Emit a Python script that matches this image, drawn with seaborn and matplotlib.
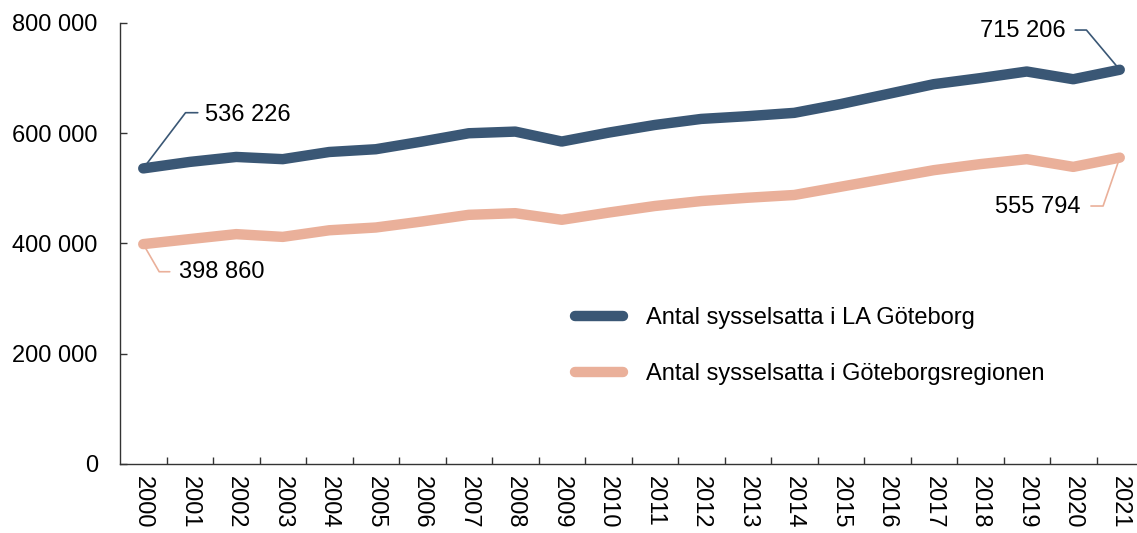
import matplotlib
matplotlib.use("Agg")
import matplotlib.pyplot as plt
from matplotlib.ticker import FuncFormatter, FixedLocator
import numpy as np
import pandas as pd
import seaborn as sns

# ---- data ----
years = list(range(2000, 2022))
la_goteborg = [536226, 548000, 557000, 553000, 566000, 571000, 585000, 600000,
               603000, 585000, 601000, 615000, 626000, 631000, 637000, 653000,
               671000, 689000, 700000, 712000, 698000, 715206]
goteborgsregionen = [398860, 408000, 417000, 412000, 424000, 429000, 440000, 452000,
                     455000, 443000, 456000, 468000, 477000, 483000, 488000, 503000,
                     518000, 533000, 544000, 553000, 539000, 555794]
series_names = ["Antal sysselsatta i LA Göteborg",
                "Antal sysselsatta i Göteborgsregionen"]
colors = ["#3A5775", "#EAB09A"]
y_ticks = [0, 200000, 400000, 600000, 800000]

sns.set_theme(style="white")
plt.rcParams["font.family"] = ["Liberation Sans", "DejaVu Sans"]

FS = 17

df = pd.DataFrame({
    "pos": list(range(len(years))) * 2,
    "value": la_goteborg + goteborgsregionen,
    "series": [series_names[0]] * len(years) + [series_names[1]] * len(years),
})

W, H = 1137, 533
fig = plt.figure(figsize=(W / 100, H / 100), dpi=100)
ax = fig.add_axes([120 / W, 69 / H, 1023 / W, 441 / H])

sns.lineplot(data=df, x="pos", y="value", hue="series", palette=colors,
             linewidth=7.5, ax=ax, solid_capstyle="round", solid_joinstyle="round",
             legend=True)
for ln in ax.get_lines():
    ln.set_solid_capstyle("round")
    ln.set_solid_joinstyle("round")

ax.set_xlim(-0.5, len(years) - 0.5)
ax.set_ylim(0, 800000)
ax.set_xlabel("")
ax.set_ylabel("")

# y axis
ax.yaxis.set_major_locator(FixedLocator(y_ticks))
ax.yaxis.set_major_formatter(FuncFormatter(lambda v, p: f"{v:,.0f}".replace(",", " ")))
ax.tick_params(axis="y", direction="in", length=5, width=1, color="#333333",
               labelsize=FS, pad=16, labelcolor="black", left=True)

# x axis: labels at centers, ticks at boundaries
ax.set_xticks(range(len(years)))
ax.set_xticklabels([str(y) for y in years], rotation=-90)
ax.set_xticks(np.arange(0.5, len(years) - 0.5, 1), minor=True)
ax.tick_params(axis="x", which="major", length=0, labelsize=FS, pad=9, labelcolor="black")
ax.tick_params(axis="x", which="minor", direction="in", length=5, width=1,
               color="#333333", bottom=True)

for s in ["top", "right"]:
    ax.spines[s].set_visible(False)
for s in ["left", "bottom"]:
    ax.spines[s].set_color("#333333")
    ax.spines[s].set_linewidth(1)

# legend
handles, labels = ax.get_legend_handles_labels()
leg = ax.legend(handles, labels, loc="center left",
                bbox_to_anchor=(575 / W, 1 - 346 / H), bbox_transform=fig.transFigure,
                frameon=False, fontsize=FS, handlelength=2.05, handletextpad=0.95,
                labelspacing=1.45, borderpad=0, borderaxespad=0, labelcolor="black")
for ln in leg.get_lines():
    ln.set_linewidth(7.5)
    ln.set_solid_capstyle("round")

# value annotations
def label_point(i, values, color, text_off, leader_end, angle, ha):
    x, y = i, values[i]
    ax.annotate("", xy=(x, y), xytext=leader_end, textcoords="offset pixels",
                arrowprops=dict(arrowstyle="-", color=color, lw=1.2,
                                shrinkA=0, shrinkB=0,
                                connectionstyle=f"angle,angleA=0,angleB={angle},rad=0"))
    ax.annotate(f"{values[i]:,.0f}".replace(",", " "), xy=(x, y), xytext=text_off,
                textcoords="offset pixels", ha=ha, va="center", fontsize=FS,
                color="black")

label_point(0, la_goteborg, colors[0], (62, 53), (54.5, 55.7), 52.8, "left")
label_point(0, goteborgsregionen, colors[1], (36, -28), (26.5, -27.6), -60, "left")
last = len(years) - 1
label_point(last, la_goteborg, colors[0], (-54.5, 39), (-44.5, 39.7), 130, "right")
label_point(last, goteborgsregionen, colors[1], (-39.5, -49), (-28.8, -48.4), 71, "right")

fig.savefig("out.png", dpi=100)
